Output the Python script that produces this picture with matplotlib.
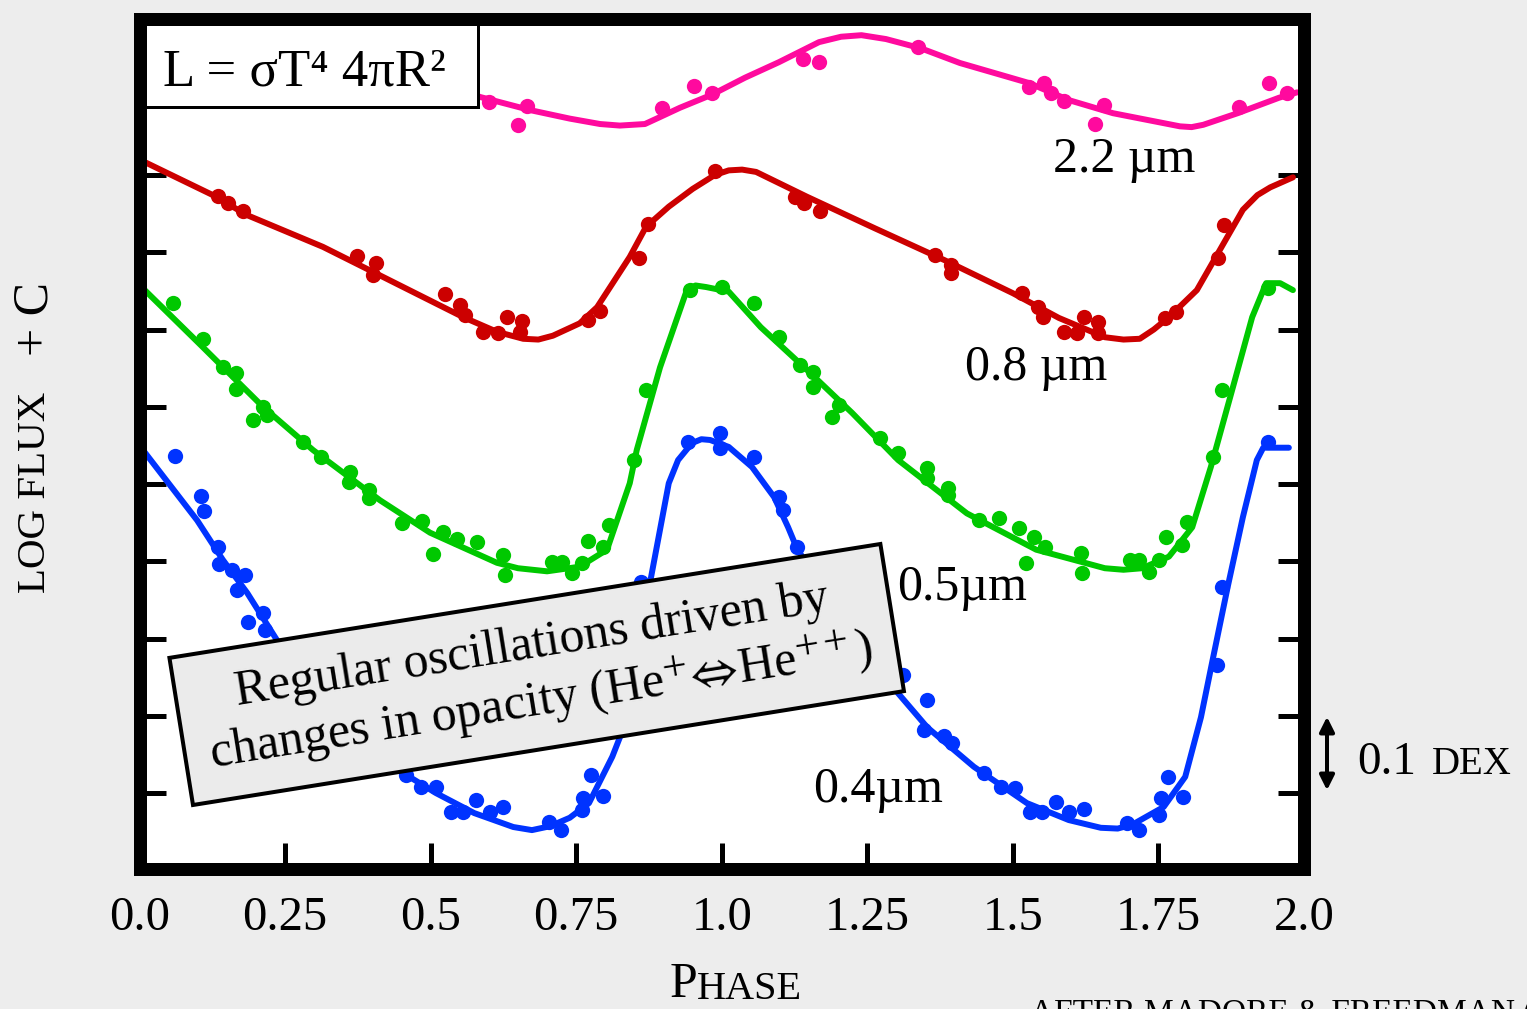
import matplotlib
matplotlib.use('Agg')
import matplotlib.pyplot as plt
from matplotlib.patches import Rectangle, FancyArrowPatch
from matplotlib.transforms import Affine2D

plt.rcParams['font.family'] = ['Liberation Serif', 'DejaVu Serif']
plt.rcParams['mathtext.fontset'] = 'stix'

# ---------------- data (phase, log flux + C in dex) ----------------
pink_curve_phase = [0.011, 0.099, 0.168, 0.205, 0.240, 0.283, 0.342, 0.409, 0.528, 0.585, 0.671, 0.739, 0.791,
                    0.825, 0.868, 0.891, 0.928, 0.983, 1.040, 1.098, 1.167, 1.205, 1.240, 1.282, 1.342, 1.409,
                    1.528, 1.596, 1.672, 1.787, 1.807, 1.827, 1.886, 1.957, 1.988]
pink_curve_flux = [0.913, 0.946, 0.972, 0.979, 0.981, 0.976, 0.964, 0.945, 0.919, 0.901, 0.884, 0.873, 0.866,
                   0.864, 0.866, 0.874, 0.887, 0.904, 0.926, 0.946, 0.972, 0.979, 0.981, 0.976, 0.964, 0.945,
                   0.919, 0.897, 0.880, 0.863, 0.862, 0.865, 0.880, 0.900, 0.907]
pink_dot_phase = [0.600, 0.666, 0.650, 0.897, 0.952, 0.983, 1.140, 1.167, 1.337, 1.528, 1.553, 1.565,
                  1.588, 1.656, 1.641, 1.888, 1.940, 1.971]
pink_dot_flux = [0.894, 0.889, 0.865, 0.887, 0.915, 0.906, 0.950, 0.946, 0.966, 0.914, 0.919, 0.906,
                 0.896, 0.891, 0.866, 0.888, 0.919, 0.906]

red_curve_phase = [0.011, 0.126, 0.185, 0.315, 0.384, 0.556, 0.614, 0.659, 0.685, 0.710, 0.756, 0.786, 0.842,
                   0.870, 0.909, 0.950, 0.988, 1.012, 1.035, 1.059, 1.146, 1.263, 1.382, 1.500, 1.579, 1.658,
                   1.690, 1.718, 1.742, 1.768, 1.816, 1.895, 1.920, 1.942, 1.981]
red_curve_flux = [0.816, 0.774, 0.748, 0.707, 0.681, 0.616, 0.597, 0.588, 0.587, 0.592, 0.608, 0.629, 0.694,
                  0.733, 0.759, 0.782, 0.800, 0.806, 0.807, 0.804, 0.772, 0.731, 0.690, 0.647, 0.615, 0.590,
                  0.587, 0.588, 0.600, 0.616, 0.651, 0.755, 0.774, 0.784, 0.797]
red_dot_phase = [0.135, 0.152, 0.178, 0.374, 0.406, 0.401, 0.525, 0.550, 0.559, 0.590, 0.616, 0.631,
                 0.657, 0.653, 0.770, 0.791, 0.858, 0.873, 0.988, 1.126, 1.141, 1.169, 1.366, 1.394,
                 1.394, 1.516, 1.543, 1.552, 1.588, 1.610, 1.622, 1.646, 1.646, 1.761, 1.780, 1.852,
                 1.863]
red_dot_flux = [0.773, 0.764, 0.753, 0.695, 0.686, 0.671, 0.646, 0.632, 0.619, 0.597, 0.595, 0.616,
                0.611, 0.597, 0.612, 0.624, 0.693, 0.737, 0.805, 0.772, 0.764, 0.753, 0.697, 0.683,
                0.673, 0.647, 0.629, 0.616, 0.597, 0.595, 0.616, 0.610, 0.595, 0.615, 0.623, 0.693,
                0.735]

green_curve_phase = [0.009, 0.109, 0.212, 0.298, 0.413, 0.499, 0.614, 0.650, 0.700, 0.756, 0.803, 0.842, 0.854,
                     0.894, 0.940, 0.955, 0.973, 1.012, 1.067, 1.146, 1.224, 1.303, 1.421, 1.540, 1.658, 1.690,
                     1.722, 1.768, 1.808, 1.840, 1.880, 1.911, 1.935, 1.959, 1.981]
green_curve_flux = [0.651, 0.577, 0.500, 0.444, 0.379, 0.337, 0.298, 0.291, 0.287, 0.293, 0.315, 0.401, 0.444,
                    0.551, 0.651, 0.657, 0.655, 0.649, 0.603, 0.548, 0.492, 0.431, 0.362, 0.315, 0.291, 0.289,
                    0.291, 0.306, 0.344, 0.422, 0.531, 0.616, 0.660, 0.660, 0.651]
green_dot_phase = [0.057, 0.109, 0.143, 0.166, 0.166, 0.212, 0.195, 0.219, 0.281, 0.312, 0.362, 0.360,
                   0.394, 0.394, 0.451, 0.485, 0.504, 0.521, 0.545, 0.580, 0.624, 0.628, 0.708, 0.726,
                   0.743, 0.760, 0.770, 0.796, 0.806, 0.849, 0.870, 0.945, 1.000, 1.055, 1.098, 1.134,
                   1.157, 1.157, 1.201, 1.189, 1.272, 1.303, 1.353, 1.353, 1.389, 1.389, 1.442, 1.476,
                   1.510, 1.536, 1.555, 1.523, 1.617, 1.619, 1.701, 1.717, 1.734, 1.751, 1.763, 1.790,
                   1.799, 1.844, 1.859, 1.938]
green_dot_flux = [0.634, 0.588, 0.551, 0.544, 0.523, 0.500, 0.483, 0.489, 0.454, 0.435, 0.416, 0.403,
                  0.392, 0.382, 0.350, 0.352, 0.309, 0.338, 0.329, 0.325, 0.308, 0.282, 0.299, 0.299,
                  0.285, 0.298, 0.326, 0.318, 0.347, 0.431, 0.522, 0.651, 0.655, 0.634, 0.590, 0.554,
                  0.545, 0.526, 0.502, 0.487, 0.460, 0.440, 0.421, 0.408, 0.395, 0.386, 0.353, 0.356,
                  0.343, 0.331, 0.318, 0.298, 0.311, 0.285, 0.302, 0.302, 0.286, 0.302, 0.331, 0.321,
                  0.351, 0.435, 0.522, 0.654]

blue_curve_phase = [0.009, 0.099, 0.143, 0.185, 0.236, 0.344, 0.444, 0.509, 0.575, 0.642, 0.674, 0.705, 0.739,
                    0.772, 0.812, 0.825, 0.868, 0.909, 0.925, 0.949, 0.965, 0.980, 1.012, 1.052, 1.090, 1.114,
                    1.130, 1.220, 1.303, 1.353, 1.433, 1.524, 1.596, 1.651, 1.680, 1.705, 1.759, 1.796, 1.823,
                    1.843, 1.869, 1.895, 1.919, 1.930, 1.974]
blue_curve_flux = [0.441, 0.353, 0.302, 0.259, 0.198, 0.107, 0.030, 0.000, -0.026, -0.044, -0.048, -0.043, -0.032,
                   -0.013, 0.047, 0.072, 0.237, 0.401, 0.431, 0.453, 0.458, 0.457, 0.448, 0.422, 0.383, 0.344,
                   0.315, 0.217, 0.129, 0.085, 0.034, -0.013, -0.035, -0.045, -0.046, -0.041, -0.018, 0.021, 0.098,
                   0.172, 0.267, 0.357, 0.431, 0.447, 0.447]
blue_dot_phase = [0.061, 0.106, 0.111, 0.135, 0.137, 0.159, 0.181, 0.167, 0.212, 0.186, 0.216, 0.458,
                  0.483, 0.509, 0.535, 0.556, 0.578, 0.602, 0.624, 0.703, 0.724, 0.760, 0.762, 0.775,
                  0.796, 0.861, 0.942, 0.997, 0.997, 1.055, 1.098, 1.105, 1.130, 1.311, 1.353, 1.348,
                  1.382, 1.396, 1.450, 1.480, 1.504, 1.529, 1.550, 1.574, 1.596, 1.622, 1.696, 1.716,
                  1.751, 1.766, 1.754, 1.792, 1.851, 1.859, 1.938]
blue_dot_flux = [0.436, 0.384, 0.365, 0.318, 0.296, 0.289, 0.282, 0.263, 0.233, 0.221, 0.211, 0.023,
                 0.008, 0.008, -0.025, -0.025, -0.009, -0.025, -0.018, -0.038, -0.048, -0.022, -0.006, 0.023,
                 -0.004, 0.273, 0.454, 0.466, 0.447, 0.435, 0.383, 0.366, 0.318, 0.153, 0.120, 0.082,
                 0.074, 0.065, 0.026, 0.008, 0.006, -0.025, -0.025, -0.012, -0.025, -0.021, -0.039, -0.048,
                 -0.028, 0.021, -0.006, -0.005, 0.166, 0.267, 0.454]

xticks = [0.0, 0.25, 0.5, 0.75, 1.0, 1.25, 1.5, 1.75, 2.0]
xticklabels = ['0.0', '0.25', '0.5', '0.75', '1.0', '1.25', '1.5', '1.75', '2.0']
yticks = [0.0, 0.1, 0.2, 0.3, 0.4, 0.5, 0.6, 0.7, 0.8]

series = [
    ('#ff0a9e', pink_curve_phase, pink_curve_flux, pink_dot_phase, pink_dot_flux),
    ('#cc0000', red_curve_phase, red_curve_flux, red_dot_phase, red_dot_flux),
    ('#00c800', green_curve_phase, green_curve_flux, green_dot_phase, green_dot_flux),
    ('#0033ff', blue_curve_phase, blue_curve_flux, blue_dot_phase, blue_dot_flux),
]

# ---------------- figure ----------------
W, H = 1527, 1009
PT = 0.72  # points per pixel at dpi 100
fig = plt.figure(figsize=(W / 100, H / 100), dpi=100, facecolor='#ededed')
ax = fig.add_axes([139.5 / W, 1 - 868.5 / H, (1304 - 139.5) / W, (868.5 - 18.5) / H])
ax.set_facecolor('white')
ax.set_xlim(0, 2.0)
ax.set_ylim(-0.0977, 1.0026)
for s in ax.spines.values():
    s.set_linewidth(13 * PT)
ax.set_xticks(xticks)
ax.set_xticklabels(xticklabels)
ax.set_yticks(yticks)
ax.set_yticklabels([])
ax.tick_params(axis='both', direction='in', length=26 * PT, width=5 * PT, left=True, right=True,
               bottom=True, top=False, labelsize=35, pad=19.5)

for color, cp, cf, dp, df in series:
    ax.plot(cp, cf, color=color, lw=4.3, solid_joinstyle='round', solid_capstyle='round', zorder=2)
    ax.plot(dp, df, 'o', color=color, ms=11, mec='none', zorder=2.2)

# pixel transform (origin bottom-left, y up)
pxt = Affine2D().scale(0.01) + fig.dpi_scale_trans

# equation box
ax.add_patch(Rectangle((145, H - 107), 333, 83, transform=pxt, facecolor='white', edgecolor='black',
                       lw=3 * PT, clip_on=False, zorder=4))
fig.text(163, H - 85, 'L = σT⁴ 4πR²', transform=pxt, fontsize=38, ha='left', va='baseline', zorder=5)

# rotated annotation box
ang = 9.1
ax.add_patch(Rectangle((193, H - 805), 720, 149, angle=ang, transform=pxt, facecolor='#ebebeb',
                       edgecolor='black', lw=4 * PT, clip_on=False, zorder=4))
fig.text(537, H - 675,
         'Regular oscillations driven by\nchanges in opacity (He$^{+}\\!\\Leftrightarrow\\!$He$^{++}$)',
         transform=pxt, fontsize=36, ha='center', va='center', rotation=ang, rotation_mode='anchor',
         multialignment='center', linespacing=1.2, zorder=5)

# curve labels
fig.text(1053, H - 172, '2.2 µm', transform=pxt, fontsize=36, ha='left', va='baseline')
fig.text(965, H - 380, '0.8 µm', transform=pxt, fontsize=36, ha='left', va='baseline')
fig.text(897, H - 600, '0.5µm', transform=pxt, fontsize=36, ha='left', va='baseline')
fig.text(813, H - 802, '0.4µm', transform=pxt, fontsize=36, ha='left', va='baseline')

# 0.1 dex scale arrow
fig.add_artist(FancyArrowPatch((1327, H - 714), (1327, H - 793), transform=pxt,
                               arrowstyle='<|-|>', mutation_scale=22, lw=4 * PT, color='black'))
fig.text(1357, H - 774, '0.1', transform=pxt, fontsize=34, ha='left', va='baseline')
fig.text(1432, H - 774, 'DEX', transform=pxt, fontsize=28, ha='left', va='baseline')

# axis labels (small caps style)
fig.text(45, H - 593, 'LOG FLUX', transform=pxt, fontsize=29.5, rotation=90, rotation_mode='anchor',
         ha='left', va='baseline')
fig.text(47, H - 356, '+ C', transform=pxt, fontsize=36, rotation=90, rotation_mode='anchor',
         ha='left', va='baseline')
fig.text(697, H - 1008, 'P', transform=pxt, fontsize=36, ha='right', va='bottom')
fig.text(697, H - 1008, 'HASE', transform=pxt, fontsize=29, ha='left', va='bottom')
fig.text(1030, H - 1022, 'AFTER MADORE & FREEDMAN (1991)', transform=pxt, fontsize=24,
         ha='left', va='baseline')

fig.savefig('out.png', dpi=100, facecolor=fig.get_facecolor())
